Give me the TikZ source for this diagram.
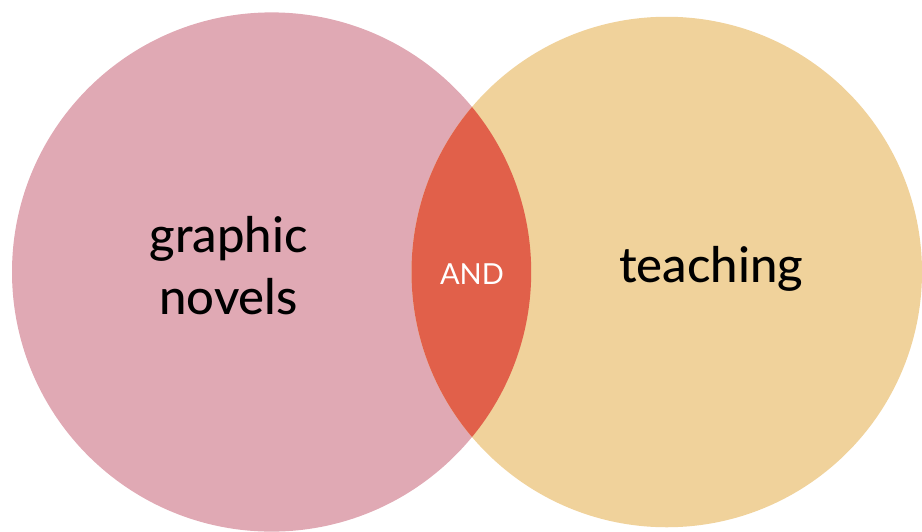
\documentclass[tikz,border=0pt]{standalone}
\usepackage{fontspec}
\setmainfont{Lato}[UprightFont=* Medium]
\newfontfamily\andfont{Lato}
\definecolor{pinkc}{RGB}{224,169,180}
\definecolor{yellowc}{RGB}{240,210,155}
\definecolor{redc}{RGB}{225,96,74}
\begin{document}
\begin{tikzpicture}[x=1pt,y=-1pt,
  lbl/.style={font=\fontsize{49}{62}\selectfont, text=black, align=center, inner sep=0pt},
  andlbl/.style={font=\andfont\fontsize{29}{30}\selectfont, text=white, inner sep=0pt}]
\useasboundingbox (0,0) rectangle (922,531);
\fill[pinkc] (271.6,272) circle[radius=259.6];
\fill[yellowc] (666.75,272) circle[radius=255.25];
\begin{scope}
  \clip (271.6,272) circle[radius=259.6];
  \fill[redc] (666.75,272) circle[radius=255.25];
\end{scope}
\node[lbl] (gn) at (228.5,266) {graphic\\novels};
\node[lbl] (te) at (711,269) {teaching};
\node[andlbl] (and) at (472,274) {AND};
\end{tikzpicture}
\end{document}
